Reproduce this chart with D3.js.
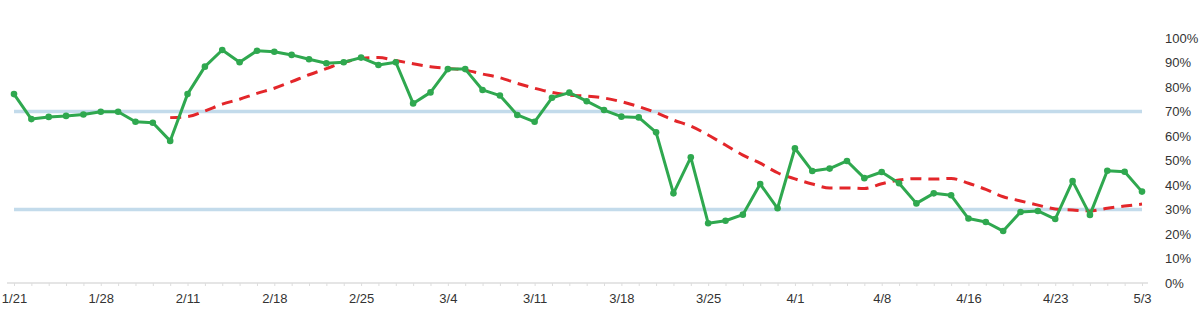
<!DOCTYPE html>
<html>
<head>
<meta charset="utf-8">
<script src="https://cdn.jsdelivr.net/npm/d3@7"></script>
<style>
  body { margin: 0; background: #fff; }
  text { font-family: "Liberation Sans", Arial, sans-serif; fill: #333; }
</style>
</head>
<body>
<script>
// labels shown every 5 trading days
var tickLabels = ['1/21','1/28','2/11','2/18','2/25','3/4','3/11','3/18','3/25','4/1','4/8','4/16','4/23','5/3'];

var values = [77.1,66.9,67.8,68.2,68.8,69.9,69.9,65.8,65.4,58.0,
              77.1,88.3,95.1,90.1,94.8,94.4,93.1,91.3,89.7,90.1,
              92.0,89.0,90.1,73.3,77.8,87.3,87.3,78.8,76.5,68.6,
              65.8,75.6,77.7,74.2,70.6,67.9,67.6,61.5,36.6,51.3,
              24.4,25.4,27.9,40.4,30.5,55.0,45.7,46.7,49.8,42.8,
              45.3,40.7,32.5,36.6,35.8,26.3,24.9,21.2,29.0,29.4,
              26.1,41.6,27.8,45.8,45.4,37.3];

// moving average, starts at the 10th point
var avgStart = 9;
var avgValues = [67.5,67.9,70.2,73.0,75.0,77.4,79.5,82.2,85.0,87.5,
                 90.0,91.7,92.0,90.8,89.5,88.3,87.6,86.9,85.3,83.8,
                 81.5,79.5,77.8,76.7,76.3,75.5,74.0,72.0,69.5,66.5,
                 64.0,60.4,56.3,52.2,48.9,45.0,42.5,40.4,38.8,38.8,
                 38.6,40.5,42.0,42.6,42.4,42.7,40.7,38.2,35.2,33.5,
                 31.8,30.2,29.8,29.4,30.5,31.4,32.2];

var bands = [70, 30];
var yTicks = [0,10,20,30,40,50,60,70,80,90,100];

var width = 1200, height = 315;

var svg = d3.select('body').append('svg')
            .attr('width', width)
            .attr('height', height);

var idx = d3.range(values.length);
var x = d3.scalePoint().domain(idx).range([14, 1142]);
var y = d3.scaleLinear().domain([0, 100]).range([283, 38]);

// x axis
var xAxis = d3.axisBottom(x)
              .tickSize(3)
              .tickFormat(function(i){ return i % 5 === 0 ? tickLabels[i / 5] : ''; });
var xg = svg.append('g').attr('transform', 'translate(0,283)').call(xAxis);
xg.select('.domain').attr('d', 'M7,0H1148').attr('stroke', '#ddd').attr('stroke-width', 1.5);
xg.selectAll('.tick line').attr('stroke', '#ddd');
xg.selectAll('.tick text').attr('font-size', 13).attr('dy', '1.05em').attr('fill', '#333');

// y axis labels on the right
var yAxis = d3.axisRight(y).tickValues(yTicks).tickSize(0).tickFormat(function(d){ return d + '%'; });
var yg = svg.append('g').attr('transform', 'translate(1165,0)').call(yAxis);
yg.select('.domain').remove();
yg.selectAll('.tick text').attr('x', 0).attr('font-size', 13).attr('fill', '#333');

// reference bands
svg.selectAll('.band').data(bands).enter().append('line')
   .attr('class', 'band')
   .attr('x1', x(0)).attr('x2', x(values.length - 1))
   .attr('y1', function(d){ return y(d); })
   .attr('y2', function(d){ return y(d); })
   .attr('stroke', '#c3dbeb').attr('stroke-width', 3.5);

// moving average
var avgLine = d3.line()
                .curve(d3.curveMonotoneX)
                .x(function(d, i){ return x(i + avgStart); })
                .y(function(d){ return y(d); });
svg.append('path').attr('d', avgLine(avgValues))
   .attr('fill', 'none').attr('stroke', '#e3262a')
   .attr('stroke-width', 3).attr('stroke-dasharray', '11,7');

// main series
var line = d3.line()
             .x(function(d, i){ return x(i); })
             .y(function(d){ return y(d); });
svg.append('path').attr('d', line(values))
   .attr('fill', 'none').attr('stroke', '#2fa84f').attr('stroke-width', 3)
   .attr('stroke-linejoin', 'round');

svg.selectAll('.dot').data(values).enter().append('circle')
   .attr('class', 'dot')
   .attr('cx', function(d, i){ return x(i); })
   .attr('cy', function(d){ return y(d); })
   .attr('r', 3.3)
   .attr('fill', '#2fa84f');
</script>
</body>
</html>
